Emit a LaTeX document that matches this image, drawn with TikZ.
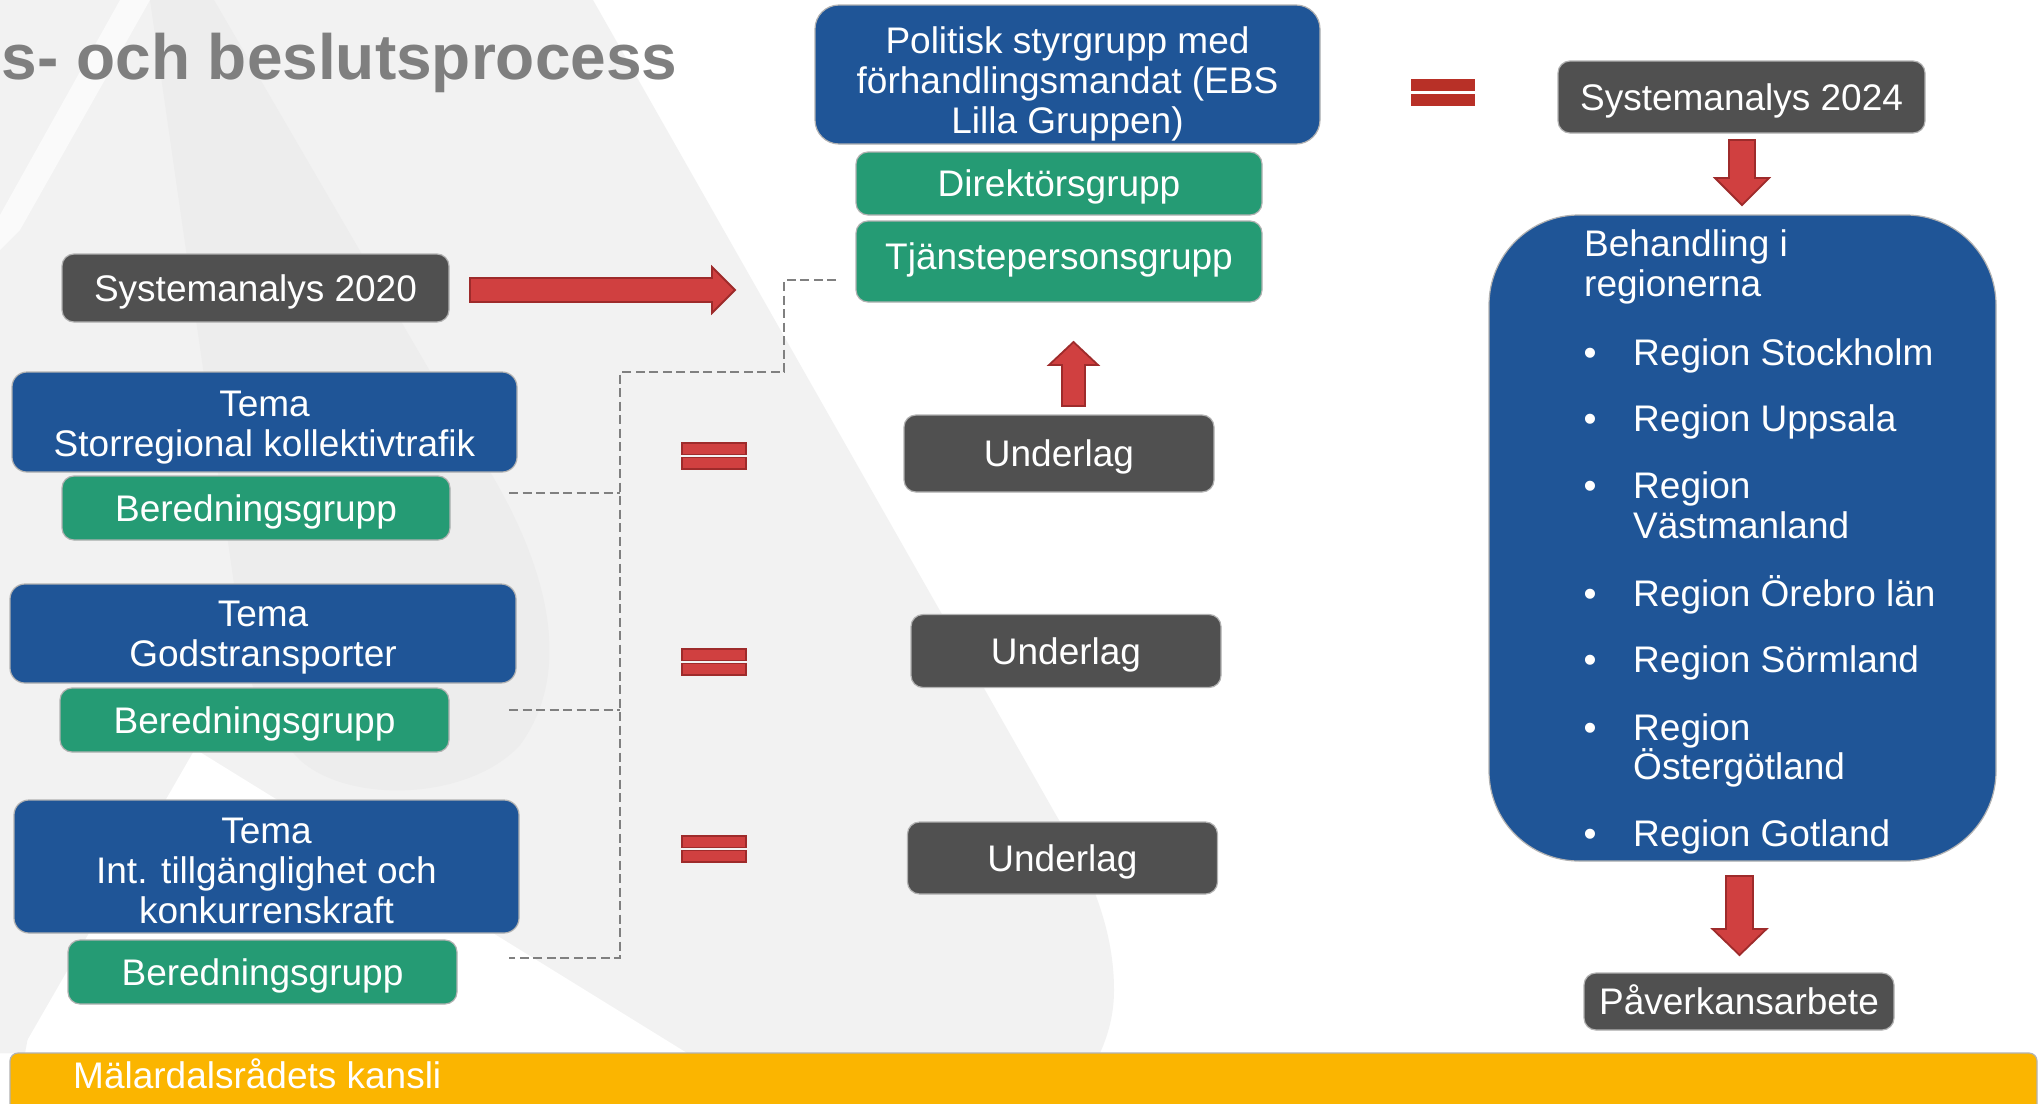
\documentclass[tikz,border=0pt]{standalone}
\usepackage{fontspec}
\setmainfont{Liberation Sans}
\usetikzlibrary{calc}
\definecolor{mblue}{HTML}{1F5597}
\definecolor{mgreen}{HTML}{259B74}
\definecolor{mdark}{HTML}{505050}
\definecolor{myellow}{HTML}{FBB500}
\definecolor{mred}{HTML}{D04040}
\definecolor{mredd}{HTML}{9E2B2B}
\definecolor{meq}{HTML}{B83027}
\definecolor{bgA}{HTML}{F2F2F2}
\definecolor{bgB}{HTML}{EDEDED}
\definecolor{mtitle}{HTML}{7F7F7F}
\definecolor{mline}{HTML}{808080}
\begin{document}
\begin{tikzpicture}[x=1pt,y=-1pt,
  box/.style={rectangle, draw=gray!60, line width=1.2pt, text=white, inner sep=0pt,
     font=\fontsize{37}{40}\selectfont, align=center},
  one/.style={text height=26.5pt, text depth=0pt},
  bluebox/.style={box, fill=mblue, rounded corners=15pt},
  greenbox/.style={box, one, fill=mgreen, rounded corners=12pt},
  darkbox/.style={box, one, fill=mdark, rounded corners=12pt},
  conn/.style={draw=mline, line width=2.6pt, dash pattern=on 9pt off 4.5pt},
  redarrow/.style={fill=mred, draw=mredd, line width=1.8pt},
  wtext/.style={text=white, inner sep=0pt, font=\fontsize{37}{40}\selectfont, anchor=base west},
  bul/.style={text=white, inner sep=0pt, font=\fontsize{37}{40}\selectfont, anchor=base},
  pics/barrow/.style n args={4}{code={%
    \filldraw[redarrow] (0,-#2) -- ({#1-#4},-#2) -- ({#1-#4},-#3) -- (#1,0)
      -- ({#1-#4},#3) -- ({#1-#4},#2) -- (0,#2) -- cycle;}},
  pics/eqa/.style={code={%
    \filldraw[redarrow, line width=1.6pt] (0,0) rectangle (64,11.5);
    \filldraw[redarrow, line width=1.6pt] (0,14.5) rectangle (64,26);}},
  pics/eqb/.style={code={%
    \fill[meq] (0,0) rectangle (64,11.5);
    \fill[meq] (0,15) rectangle (64,27);}},
]
\path[use as bounding box, clip] (0,0) rectangle (2042,1103);
\fill[white] (0,0) rectangle (2042,1103);
% background decoration
\fill[bgA] (0,0) -- (593,0) -- (1056,815) .. controls (1095,880) and (1114,935) .. (1114,990)
  .. controls (1114,1015) and (1108,1035) .. (1100,1053) -- (0,1053) -- cycle;
\fill[bgB] (150,0) -- (214,0) -- (470,440) .. controls (550,560) and (575,670) .. (520,745)
  .. controls (470,800) and (350,805) .. (300,760) .. controls (270,730) and (255,700) .. (245,660) -- cycle;
\fill[white!60!bgA] (120,0) -- (150,0) -- (20,230) -- (0,250) -- (0,215) -- cycle;
\fill[white] (195,749) -- (687,1053) -- (20,1053) -- cycle;
\fill[bgA] (0,850) .. controls (30,900) and (40,980) .. (25,1053) -- (0,1053) -- cycle;

% title
\node[anchor=base west, inner sep=0pt, text=mtitle, font=\fontsize{64}{70}\selectfont\bfseries] (title) at (1.5,79) {s- och beslutsprocess};

% centre column
\node[bluebox, rounded corners=24pt, minimum width=505pt, minimum height=139pt] (pol) at (1067.5,74.5)
  {\rule{0pt}{44.8pt}Politisk styrgrupp med\\förhandlingsmandat (EBS\\Lilla Gruppen)};
\node[greenbox, minimum width=406pt, minimum height=63pt] (dir) at (1059,183.5) {Direktörsgrupp};
\node[greenbox, minimum width=406pt, minimum height=81pt, text depth=10pt] (tj) at (1059,261.5) {Tjänstepersonsgrupp};
\node[darkbox, minimum width=310pt, minimum height=77pt] (u1) at (1059,453.5) {Underlag};
\node[darkbox, minimum width=310pt, minimum height=73pt] (u2) at (1066,651) {Underlag};
\node[darkbox, minimum width=310pt, minimum height=72pt] (u3) at (1062.5,858) {Underlag};

% left column
\node[darkbox, minimum width=387pt, minimum height=68pt] (s20) at (255.5,288) {Systemanalys 2020};
\node[bluebox, minimum width=505pt, minimum height=100pt] (t1) at (264.5,422) {\rule{0pt}{35.8pt}Tema\\Storregional kollektivtrafik};
\node[greenbox, minimum width=388pt, minimum height=64pt] (b1) at (256,508) {Beredningsgrupp};
\node[bluebox, minimum width=506pt, minimum height=99pt] (t2) at (263,633.5) {\rule{0pt}{32.8pt}Tema\\Godstransporter};
\node[greenbox, minimum width=389pt, minimum height=64pt] (b2) at (254.5,720) {Beredningsgrupp};
\node[bluebox, minimum width=505pt, minimum height=133pt] (t3) at (266.5,866.5) {\rule{0pt}{35pt}Tema\\Int. tillgänglighet och\\konkurrenskraft};
\node[greenbox, minimum width=389pt, minimum height=64pt] (b3) at (262.5,972) {Beredningsgrupp};

% right column
\node[darkbox, minimum width=367pt, minimum height=72pt] (s24) at (1741.5,97) {Systemanalys 2024};
\node[box, fill=mblue, rounded corners=90pt, minimum width=507pt, minimum height=646pt] (beh) at (1742.5,538) {};
\node[wtext] (behA) at (1584,256) {Behandling i};
\node[wtext] (behB) at (1584,296) {regionerna};
\node[bul] (d1) at (1590,365) {•}; \node[wtext] (r1) at (1633,365) {Region Stockholm};
\node[bul] (d2) at (1590,431) {•}; \node[wtext] (r2) at (1633,431) {Region Uppsala};
\node[bul] (d3) at (1590,498) {•}; \node[wtext] (r3) at (1633,498) {Region};
\node[wtext] (r3b) at (1633,538) {Västmanland};
\node[bul] (d4) at (1590,606) {•}; \node[wtext] (r4) at (1633,606) {Region Örebro län};
\node[bul] (d5) at (1590,672) {•}; \node[wtext] (r5) at (1633,672) {Region Sörmland};
\node[bul] (d6) at (1590,740) {•}; \node[wtext] (r6) at (1633,740) {Region};
\node[wtext] (r6b) at (1633,779) {Östergötland};
\node[bul] (d7) at (1590,846) {•}; \node[wtext] (r7) at (1633,846) {Region Gotland};
\node[darkbox, minimum width=310pt, minimum height=57pt] (pav) at (1739,1001.5) {Påverkansarbete};

% bottom bar
\node[rectangle, fill=myellow, draw=gray!60, line width=1.2pt, rounded corners=8pt,
  minimum width=2027pt, minimum height=70pt, inner sep=0pt] (bar) at (1023.5,1088) {};
\node[wtext] (bartext) at (73,1088) {Mälardalsrådets kansli};

% dashed connectors
\coordinate (tjin) at (836,280);
\coordinate (jog) at (784,372);
\coordinate (trunkbot) at (620,958);
\coordinate (s1) at (509,493);
\coordinate (s2) at (509,710);
\coordinate (s3) at (509,958);
\draw[conn] (tjin) -| (jog) -| (trunkbot) -- (s3);
\draw[conn] (s1) -- (s1 -| trunkbot);
\draw[conn] (s2) -- (s2 -| trunkbot);

% block arrows
\pic (a1) at (470,290) {barrow={265}{12}{23}{23}};
\pic[rotate=90] (a2) at (1073.5,406) {barrow={64}{11.5}{24.5}{23}};
\pic[rotate=-90] (a3) at (1742,140) {barrow={65}{13}{27}{27}};
\pic[rotate=-90] (a4) at (1739.5,876) {barrow={79}{13.5}{27}{26}};

% equal signs
\pic (e1) at (682,443) {eqa};
\pic (e2) at (682,649) {eqa};
\pic (e3) at (682,836) {eqa};
\pic (e4) at (1411,79) {eqb};
\end{tikzpicture}
\end{document}
